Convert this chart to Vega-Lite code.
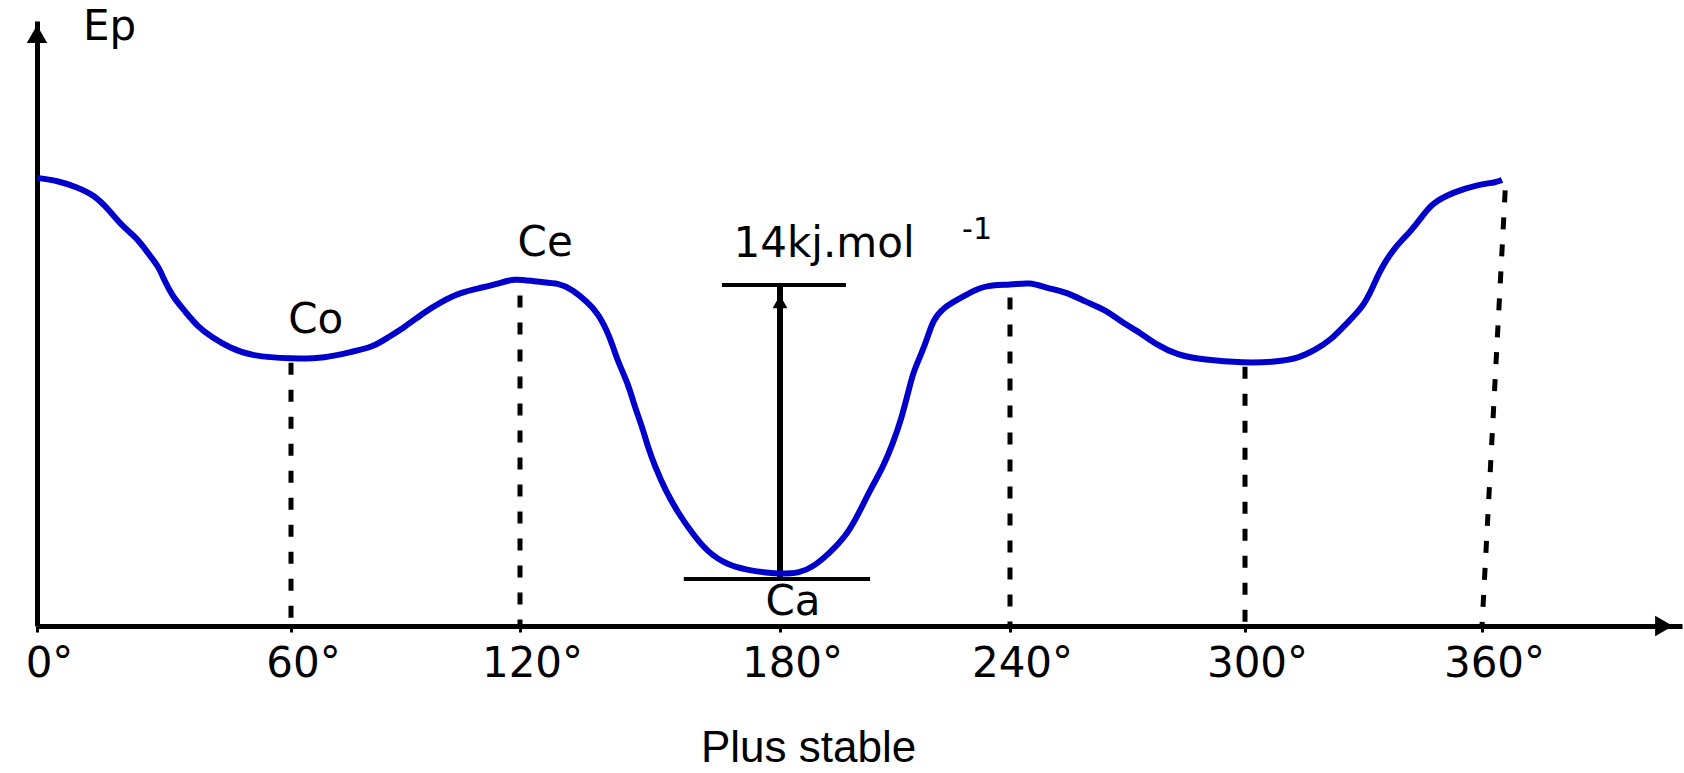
{
  "$schema": "https://vega.github.io/schema/vega-lite/v6.json",
  "autosize": {"type": "none"},
  "padding": {"left": 37, "top": 21, "right": 2, "bottom": 147},
  "width": 1645,
  "height": 605,
  "background": "white",
  "config": {"view": {"stroke": null}},
  "datasets": {
    "curve": [
      {"deg": 0, "E": 19.1}, {"deg": 5.2, "E": 18.95}, {"deg": 9.2, "E": 18.67}, {"deg": 13.5, "E": 18.29},
      {"deg": 17.0, "E": 17.57}, {"deg": 20.3, "E": 16.76}, {"deg": 23.6, "E": 16.24}, {"deg": 26.2, "E": 15.52},
      {"deg": 28.8, "E": 14.86}, {"deg": 30.0, "E": 14.24}, {"deg": 32.1, "E": 13.43}, {"deg": 34.7, "E": 12.81},
      {"deg": 38.0, "E": 12.0}, {"deg": 41.3, "E": 11.52}, {"deg": 45.6, "E": 11.0}, {"deg": 50.6, "E": 10.62},
      {"deg": 60.0, "E": 10.48}, {"deg": 69.2, "E": 10.52}, {"deg": 75.7, "E": 10.81}, {"deg": 81.5, "E": 11.05},
      {"deg": 85.2, "E": 11.48}, {"deg": 89.9, "E": 12.0}, {"deg": 94.6, "E": 12.67}, {"deg": 99.3, "E": 13.19},
      {"deg": 104.0, "E": 13.62}, {"deg": 109.5, "E": 13.86}, {"deg": 114.2, "E": 14.05}, {"deg": 118.5, "E": 14.33},
      {"deg": 123.9, "E": 14.14}, {"deg": 129.0, "E": 14.1}, {"deg": 132.2, "E": 13.76}, {"deg": 135.5, "E": 13.19},
      {"deg": 138.0, "E": 12.67}, {"deg": 140.8, "E": 11.52}, {"deg": 142.4, "E": 10.43}, {"deg": 144.9, "E": 9.33},
      {"deg": 146.5, "E": 8.19}, {"deg": 148.2, "E": 7.24}, {"deg": 149.5, "E": 6.29}, {"deg": 151.2, "E": 5.33},
      {"deg": 153.5, "E": 4.24}, {"deg": 156.5, "E": 3.14}, {"deg": 159.7, "E": 2.19}, {"deg": 163.2, "E": 1.29},
      {"deg": 167.8, "E": 0.67}, {"deg": 172.4, "E": 0.43}, {"deg": 177.0, "E": 0.29}, {"deg": 180.0, "E": 0.24},
      {"deg": 185.2, "E": 0.29}, {"deg": 188.6, "E": 0.57}, {"deg": 193.0, "E": 1.24}, {"deg": 197.0, "E": 2.0},
      {"deg": 200.1, "E": 2.95}, {"deg": 203.5, "E": 4.24}, {"deg": 206.9, "E": 5.33}, {"deg": 209.5, "E": 6.48},
      {"deg": 211.8, "E": 7.71}, {"deg": 213.4, "E": 8.86}, {"deg": 214.7, "E": 9.81}, {"deg": 216.5, "E": 10.57},
      {"deg": 218.3, "E": 11.38}, {"deg": 219.9, "E": 12.33}, {"deg": 222.5, "E": 12.9}, {"deg": 226.2, "E": 13.29},
      {"deg": 229.8, "E": 13.67}, {"deg": 234.0, "E": 14.0}, {"deg": 240.3, "E": 14.0}, {"deg": 245.1, "E": 14.14},
      {"deg": 249.2, "E": 13.86}, {"deg": 254.3, "E": 13.67}, {"deg": 259.4, "E": 13.19}, {"deg": 264.5, "E": 12.81},
      {"deg": 268.4, "E": 12.24}, {"deg": 273.4, "E": 11.71}, {"deg": 277.5, "E": 11.14}, {"deg": 282.6, "E": 10.67},
      {"deg": 289.5, "E": 10.43}, {"deg": 299.7, "E": 10.29}, {"deg": 307.8, "E": 10.33}, {"deg": 313.7, "E": 10.52},
      {"deg": 317.7, "E": 10.9}, {"deg": 321.8, "E": 11.38}, {"deg": 325.8, "E": 12.19}, {"deg": 329.9, "E": 12.95},
      {"deg": 332.4, "E": 13.9}, {"deg": 334.2, "E": 14.71}, {"deg": 337.7, "E": 15.76}, {"deg": 341.8, "E": 16.52},
      {"deg": 344.8, "E": 17.24}, {"deg": 347.3, "E": 17.9}, {"deg": 352.9, "E": 18.43}, {"deg": 358.7, "E": 18.76},
      {"deg": 363.8, "E": 18.9}, {"deg": 365.0, "E": 19.0}
    ],
    "dashed": [
      {"deg": 60, "deg2": 60, "top": 10.3, "bottom": -2.24},
      {"deg": 120, "deg2": 120, "top": 13.5, "bottom": -2.24},
      {"deg": 240, "deg2": 240, "top": 13.4, "bottom": -2.24},
      {"deg": 300, "deg2": 300, "top": 10.1, "bottom": -2.24},
      {"deg": 365.8, "deg2": 360, "top": 18.5, "bottom": -2.24}
    ],
    "bars": [
      {"deg": 166.6, "deg2": 197.2, "E": 14},
      {"deg": 157.8, "deg2": 203.5, "E": 0}
    ],
    "gap": [{"deg": 180, "top": 14, "bottom": 0}],
    "arrowUp": [{"deg": 180, "E": 13.2}],
    "axisArrows": [
      {"deg": 0, "E": 25.95, "dir": "up"},
      {"deg": 405.5, "E": -2.24, "dir": "right"}
    ],
    "labels": [
      {"deg": 66.5, "E": 12.33, "text": "Co"},
      {"deg": 125.8, "E": 16.0, "text": "Ce"},
      {"deg": 183.4, "E": -1.1, "text": "Ca"},
      {"deg": 191.5, "E": 15.95, "text": "14kj.mol"}
    ],
    "sup": [{"deg": 227.5, "E": 16.6, "text": "-1"}]
  },
  "layer": [
    {
      "data": {"name": "dashed"},
      "mark": {"type": "rule", "color": "black", "strokeWidth": 5, "strokeDash": [12, 15]},
      "encoding": {
        "x": {"field": "deg", "type": "quantitative",
          "scale": {"domain": [0, 60, 120, 180, 240, 300, 360, 410], "range": [0, 254, 483, 743, 973, 1208, 1445, 1645], "nice": false, "zero": false},
          "axis": {
            "values": [0, 60, 120, 180, 240, 300, 360],
            "labelExpr": "datum.value + '°'",
            "domainColor": "black", "domainWidth": 5,
            "tickColor": "black", "tickWidth": 3, "tickSize": 6,
            "grid": false,
            "labelFont": "DejaVu Sans", "labelFontSize": 42, "labelColor": "black",
            "labelPadding": 11, "labelOffset": 12, "labelFlush": false, "labelOverlap": false,
            "title": "Plus stable",
            "titleFont": "Liberation Sans Narrow, Liberation Sans", "titleFontSize": 44, "titleFontWeight": "normal",
            "titleColor": "black", "titleX": 771, "titleY": 135, "titleAlign": "center", "titleBaseline": "alphabetic", "titleAnchor": null
          }
        },
        "x2": {"field": "deg2"},
        "y": {"field": "top", "type": "quantitative",
          "scale": {"domain": [-2.24, 26.57], "nice": false, "zero": false},
          "axis": {
            "ticks": false, "labels": false, "grid": false,
            "domainColor": "black", "domainWidth": 5,
            "title": "Ep", "titleAngle": 0, "titleX": 72, "titleY": 18,
            "titleAlign": "center", "titleBaseline": "alphabetic",
            "titleFont": "DejaVu Sans", "titleFontSize": 42, "titleFontWeight": "normal", "titleColor": "black"
          }
        },
        "y2": {"field": "bottom"}
      }
    },
    {
      "data": {"name": "gap"},
      "mark": {"type": "rule", "color": "black", "strokeWidth": 6},
      "encoding": {
        "x": {"field": "deg", "type": "quantitative"},
        "y": {"field": "top", "type": "quantitative"},
        "y2": {"field": "bottom"}
      }
    },
    {
      "data": {"name": "bars"},
      "mark": {"type": "rule", "color": "black", "strokeWidth": 4},
      "encoding": {
        "x": {"field": "deg", "type": "quantitative"},
        "x2": {"field": "deg2"},
        "y": {"field": "E", "type": "quantitative"}
      }
    },
    {
      "data": {"name": "arrowUp"},
      "mark": {"type": "point", "shape": "triangle-up", "filled": true, "color": "black", "size": 220, "opacity": 1},
      "encoding": {
        "x": {"field": "deg", "type": "quantitative"},
        "y": {"field": "E", "type": "quantitative"}
      }
    },
    {
      "data": {"name": "axisArrows"},
      "mark": {"type": "point", "filled": true, "color": "black", "size": 420, "opacity": 1},
      "encoding": {
        "x": {"field": "deg", "type": "quantitative"},
        "y": {"field": "E", "type": "quantitative"},
        "shape": {"field": "dir", "type": "nominal", "scale": {"domain": ["up", "right"], "range": ["triangle-up", "triangle-right"]}, "legend": null}
      }
    },
    {
      "data": {"name": "curve"},
      "mark": {"type": "line", "color": "#0000CC", "strokeWidth": 6, "interpolate": "basis"},
      "encoding": {
        "x": {"field": "deg", "type": "quantitative"},
        "y": {"field": "E", "type": "quantitative"}
      }
    },
    {
      "data": {"name": "labels"},
      "mark": {"type": "text", "font": "DejaVu Sans", "fontSize": 42, "color": "black", "align": "center", "baseline": "middle"},
      "encoding": {
        "x": {"field": "deg", "type": "quantitative"},
        "y": {"field": "E", "type": "quantitative"},
        "text": {"field": "text"}
      }
    },
    {
      "data": {"name": "sup"},
      "mark": {"type": "text", "font": "DejaVu Sans", "fontSize": 30, "color": "black", "align": "left", "baseline": "middle"},
      "encoding": {
        "x": {"field": "deg", "type": "quantitative"},
        "y": {"field": "E", "type": "quantitative"},
        "text": {"field": "text"}
      }
    }
  ]
}
